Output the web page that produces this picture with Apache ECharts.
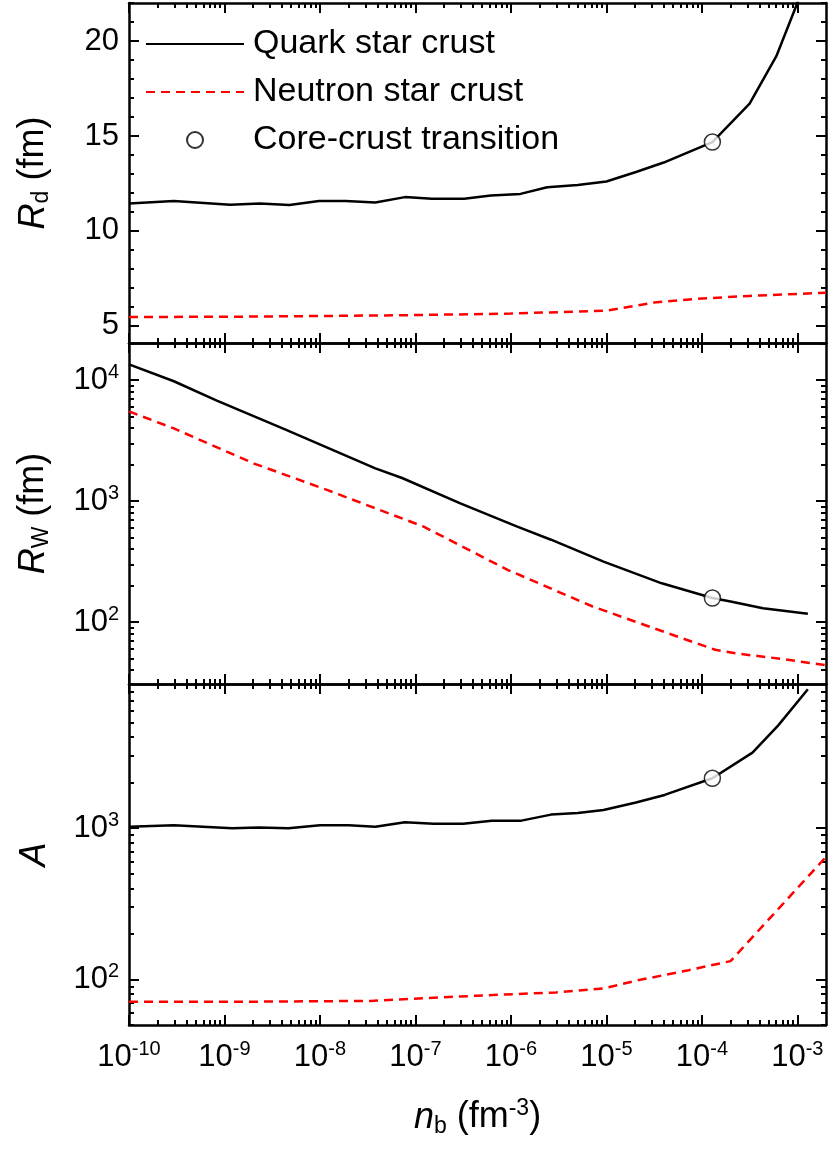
<!DOCTYPE html>
<html><head><meta charset="utf-8">
<script src="https://cdn.jsdelivr.net/npm/echarts@6/dist/echarts.min.js"></script>
<style>html,body{margin:0;padding:0;background:#fff}#c{width:830px;height:1154px}</style>
</head><body><div id="c"></div>
<script>
// x values are log10(n_b / fm^-3)
const rdQuarkX = [-10,-9.53,-8.94,-8.63,-8.32,-8.01,-7.73,-7.42,-7.11,-6.83,-6.49,-6.21,-5.90,-5.62,-5.30,-5.0,-4.69,-4.40,-3.89,-3.50,-3.22,-3.0,-2.95];
const rdQuarkY = [11.45,11.58,11.38,11.44,11.37,11.58,11.58,11.5,11.78,11.7,11.7,11.87,11.95,12.3,12.42,12.6,13.1,13.6,14.68,16.7,19.2,22.0,23.0];
const rdNeutronX = [-10,-9,-8,-7,-6,-5,-4.5,-4,-3.5,-2.7];
const rdNeutronY = [5.47,5.48,5.52,5.57,5.65,5.8,6.23,6.44,6.58,6.75];
const rwQuarkX = [-10,-9.53,-9.08,-8.36,-7.42,-7.14,-6.53,-5.94,-5.58,-5.03,-4.42,-3.89,-3.70,-3.36,-2.89];
const rwQuarkY = [13490,9770,6760,3890,1860,1550,955,617,479,316,209,158,148,130,117];
const rwNeutronX = [-10,-9.53,-8.69,-7.92,-6.92,-6.03,-5.15,-4.36,-3.86,-3.64,-3.20,-2.70];
const rwNeutronY = [5500,3980,2040,1230,617,269,135,81,59,55,50,44];
const aQuarkX = [-10,-9.53,-8.92,-8.64,-8.33,-8.0,-7.70,-7.42,-7.11,-6.81,-6.50,-6.20,-5.89,-5.58,-5.30,-5.03,-4.69,-4.39,-3.89,-3.47,-3.20,-2.89];
const aQuarkY = [1023,1047,1000,1012,1000,1047,1047,1023,1096,1072,1072,1122,1122,1230,1259,1318,1479,1660,2140,3160,4790,8300];
const aNeutronX = [-10,-8.97,-7.47,-6.35,-5.53,-5.03,-4.69,-4.14,-3.70,-2.70];
const aNeutronY = [71,71,72,78,82,87,98,115,132,646];
const transX = -3.89;
const transRd = 14.68, transRw = 158, transA = 2140;
const xTicks = [-10,-9,-8,-7,-6,-5,-4,-3];
const rdTicks = [5,10,15,20];
const rwTicks = [2,3,4];
const aTicks = [2,3];

const FONT = 'Liberation Sans';
const xMin = -10, xMax = -2.7;
const xMinor = [];
for (let d=-10; d<=-3; d++) for (let k=2;k<=9;k++){const v=d+Math.log10(k); if(v<=xMax) xMinor.push(v);}
function logMinor(lo,hi){const r=[];for(let d=Math.floor(lo);d<=Math.ceil(hi);d++)for(let k=2;k<=9;k++){const v=d+Math.log10(k);if(v>=lo&&v<=hi)r.push(v);}return r;}
const supFmt = v => '{b|10}{s|' + Math.round(v) + '}';
const rich = {b:{fontSize:31,fontFamily:FONT,color:'#000'}, s:{fontSize:20,fontFamily:FONT,color:'#000',padding:[0,0,16,0]}};

const grids = [
  {left:129,right:4,top:3,height:340},
  {left:129,right:4,top:343,height:341},
  {left:129,right:4,top:684,height:341}
];
const xAxis=[], yAxis=[];
const lineW = 2.5;
const axLine = {show:true, lineStyle:{color:'#000',width:lineW}};
function addX(g, pos, major, showLabel){
  xAxis.push({type:'value',gridIndex:g,position:pos,min:xMin,max:xMax,
    axisLine: major?axLine:{show:false}, splitLine:{show:false},
    axisTick:{show:true,inside:true,length:major?10:5,lineStyle:{color:'#000',width:2},customValues: major?xTicks:xMinor},
    axisLabel:{show:!!showLabel,customValues:xTicks,formatter:supFmt,rich:rich,margin:14}});
  return xAxis.length-1;
}
function addY(g, pos, major, min, max, ticks, minors, showLabel, fmt, name){
  yAxis.push({type:'value',gridIndex:g,position:pos,min:min,max:max,
    axisLine: major?axLine:{show:false}, splitLine:{show:false},
    axisTick:{show:true,inside:true,length:major?10:5,lineStyle:{color:'#000',width:2},customValues: major?ticks:minors},
    axisLabel:{show:!!showLabel,customValues:ticks,formatter:fmt,rich:rich,margin:10,fontSize:31,fontFamily:FONT,color:'#000'},
    name: name||'', nameLocation:'middle', nameRotate:90, nameGap:76,
    nameTextStyle:{rich:{i:{fontSize:36,fontStyle:'italic',fontFamily:FONT,color:'#000'},n:{fontSize:36,fontFamily:FONT,color:'#000'},sub:{fontSize:23,fontFamily:FONT,color:'#000',padding:[16,0,0,0]}}}});
  return yAxis.length-1;
}
const ranges = [
  {min:4.1,max:22,ticks:rdTicks,minors:[6,7,8,9,11,12,13,14,16,17,18,19,21,22],fmt:v=>'{b|'+v+'}',name:'{i|R}{sub|d}{n| (fm)}'},
  {min:1.488,max:4.306,ticks:rwTicks,minors:logMinor(1.488,4.306),fmt:supFmt,name:'{i|R}{sub|W}{n| (fm)}'},
  {min:1.698,max:3.954,ticks:aTicks,minors:logMinor(1.698,3.954),fmt:supFmt,name:'{i|A}'}
];
const xi=[], yi=[];
for(let g=0;g<3;g++){
  xi.push(addX(g,'bottom',true,g===2)); addX(g,'bottom',false); addX(g,'top',true); addX(g,'top',false);
  const r=ranges[g];
  yi.push(addY(g,'left',true,r.min,r.max,r.ticks,r.minors,true,r.fmt,r.name));
  addY(g,'left',false,r.min,r.max,r.ticks,r.minors); addY(g,'right',true,r.min,r.max,r.ticks,r.minors); addY(g,'right',false,r.min,r.max,r.ticks,r.minors);
}
xAxis[xi[2]].name='{i|n}{sub|b}{n| (fm}{sup|-3}{n|)}';
xAxis[xi[2]].nameLocation='middle'; xAxis[xi[2]].nameGap=72;
xAxis[xi[2]].nameTextStyle={rich:{i:{fontSize:36,fontStyle:'italic',fontFamily:FONT,color:'#000'},n:{fontSize:36,fontFamily:FONT,color:'#000'},sub:{fontSize:23,fontFamily:FONT,color:'#000',padding:[18,0,0,0]},sup:{fontSize:23,fontFamily:FONT,color:'#000',padding:[0,0,18,0]}}};

const zip=(xs,ys,f)=>xs.map((x,i)=>[x,f?f(ys[i]):ys[i]]);
const L=Math.log10;
const series=[];
function addSeries(g, qx,qy, nx,ny, ty, f){
  series.push({name:'Quark star crust',type:'line',xAxisIndex:xi[g],yAxisIndex:yi[g],data:zip(qx,qy,f),symbol:'none',clip:true,lineStyle:{color:'#000',width:2.5},itemStyle:{color:'#000'},z:2});
  series.push({name:'Neutron star crust',type:'line',xAxisIndex:xi[g],yAxisIndex:yi[g],data:zip(nx,ny,f),symbol:'none',clip:true,lineStyle:{color:'#ff0000',width:2.5,type:[9,6]},itemStyle:{color:'#ff0000'},z:2});
  series.push({name:'Core-crust transition',type:'scatter',xAxisIndex:xi[g],yAxisIndex:yi[g],data:[[transX,f?f(ty):ty]],symbol:'circle',symbolSize:16,itemStyle:{color:'#fff',borderColor:'#000',borderWidth:1.5},z:5});
}
addSeries(0,rdQuarkX,rdQuarkY,rdNeutronX,rdNeutronY,transRd);
addSeries(1,rwQuarkX,rwQuarkY,rwNeutronX,rwNeutronY,transRw,L);
addSeries(2,aQuarkX,aQuarkY,aNeutronX,aNeutronY,transA,L);

const chart=echarts.init(document.getElementById('c'),null,{renderer:'canvas'});
chart.setOption({
  animation:false, backgroundColor:'#fff',
  grid:grids, xAxis:xAxis, yAxis:yAxis, series:series,
  legend:{orient:'vertical',left:140,top:22,itemWidth:98,itemHeight:16,itemGap:14,
    textStyle:{fontSize:34,fontFamily:FONT,color:'#000',padding:[0,0,0,4]},
    data:[{name:'Quark star crust',itemStyle:{opacity:0}},{name:'Neutron star crust',itemStyle:{opacity:0}},{name:'Core-crust transition'}]}
});
</script></body></html>
